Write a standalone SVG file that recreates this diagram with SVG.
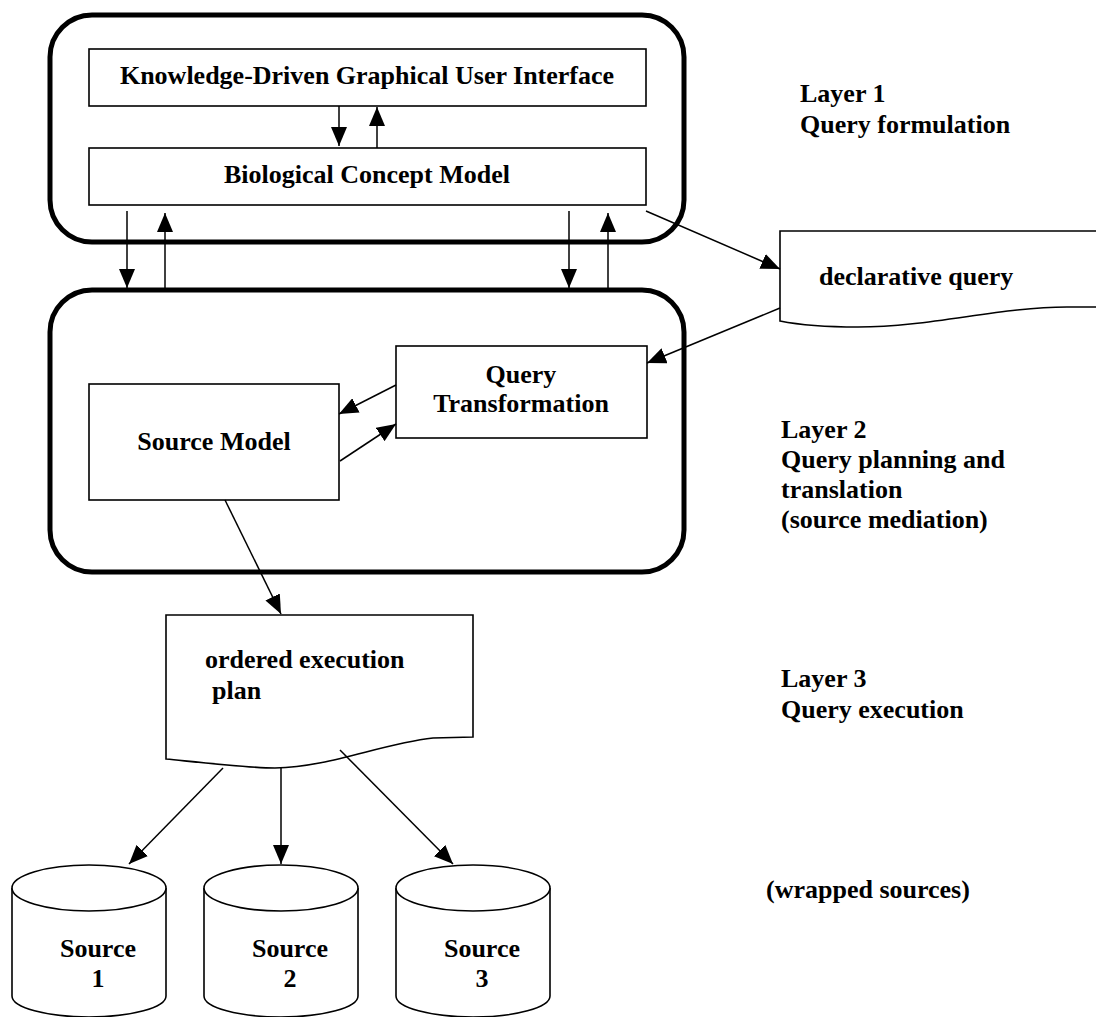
<svg xmlns="http://www.w3.org/2000/svg" width="1096" height="1017" viewBox="0 0 1096 1017">
<defs>
<marker id="ah" markerUnits="userSpaceOnUse" markerWidth="20" markerHeight="16" refX="19" refY="8" orient="auto">
<path d="M0,0 L19,8 L0,16 Z" fill="#000"/>
</marker>
<style>
text{font-family:"Liberation Serif","Times New Roman",serif;font-weight:bold;font-size:26px;fill:#000}
.c{text-anchor:middle}
.layer{fill:none;stroke:#000;stroke-width:5}
.box{fill:#fff;stroke:#000;stroke-width:1.6}
.ln{fill:none;stroke:#000;stroke-width:1.5;marker-end:url(#ah)}
</style>
</defs>
<rect width="1096" height="1017" fill="#fff"/>

<g id="layer1">
<rect class="layer" x="50" y="15" width="634" height="227" rx="42"/>
</g>
<g id="layer2">
<rect class="layer" x="50" y="290" width="634" height="282" rx="42"/>
</g>

<g id="gui">
<rect class="box" x="89" y="49" width="557" height="57"/>
<text class="c" x="367" y="84">Knowledge-Driven Graphical User Interface</text>
</g>
<g id="bcm">
<rect class="box" x="89" y="148" width="557" height="57"/>
<text class="c" x="367" y="183">Biological Concept Model</text>
</g>

<g id="declarative-query">
<path class="box" d="M1100,231 L780,231 L780,321 C800,325 830,327 858,327 C930,327 1000,307 1067,307 L1100,307"/>
<text x="819" y="285">declarative query</text>
</g>

<g id="query-transformation">
<rect class="box" x="396" y="346" width="251" height="92"/>
<text class="c" x="521" y="383">Query</text>
<text class="c" x="521" y="412">Transformation</text>
</g>

<g id="source-model">
<rect class="box" x="89" y="384" width="250" height="116"/>
<text class="c" x="214" y="450">Source Model</text>
</g>

<g id="execution-plan">
<path class="box" d="M166,615 L473,615 L473,737 L433,738 C380,744 330,767 275,768 C250,768 215,764 166,759 Z"/>
<text x="205" y="668">ordered execution</text>
<text x="212" y="699">plan</text>
</g>

<g id="source1">
<path class="box" d="M12,888 L12,996 A77,21 0 0 0 166,996 L166,888"/>
<ellipse class="box" cx="89" cy="888" rx="77" ry="23"/>
<text class="c" x="98" y="957">Source</text>
<text class="c" x="98" y="987">1</text>
</g>
<g id="source2">
<path class="box" d="M204,888 L204,996 A77,21 0 0 0 358,996 L358,888"/>
<ellipse class="box" cx="281" cy="888" rx="77" ry="23"/>
<text class="c" x="290" y="957">Source</text>
<text class="c" x="290" y="987">2</text>
</g>
<g id="source3">
<path class="box" d="M396,888 L396,996 A77,21 0 0 0 550,996 L550,888"/>
<ellipse class="box" cx="473" cy="888" rx="77" ry="23"/>
<text class="c" x="482" y="957">Source</text>
<text class="c" x="482" y="987">3</text>
</g>

<g id="labels">
<text x="800" y="102">Layer 1</text>
<text x="800" y="133">Query formulation</text>
<text x="781" y="438">Layer 2</text>
<text x="781" y="468">Query planning and</text>
<text x="781" y="498">translation</text>
<text x="781" y="528">(source mediation)</text>
<text x="781" y="687">Layer 3</text>
<text x="781" y="718">Query execution</text>
<text x="766" y="898">(wrapped sources)</text>
</g>

<g id="connectors">
<line class="ln" x1="339" y1="106" x2="339" y2="146"/>
<line class="ln" x1="377" y1="148" x2="377" y2="107"/>
<line class="ln" x1="127" y1="211" x2="127" y2="288"/>
<line class="ln" x1="165" y1="288" x2="165" y2="213"/>
<line class="ln" x1="569" y1="211" x2="569" y2="288"/>
<line class="ln" x1="608" y1="288" x2="608" y2="213"/>
<line class="ln" x1="646" y1="211" x2="780" y2="269"/>
<line class="ln" x1="780" y1="308" x2="647" y2="363"/>
<line class="ln" x1="396" y1="385" x2="339" y2="414"/>
<line class="ln" x1="340" y1="461" x2="396" y2="424"/>
<line class="ln" x1="225" y1="500" x2="281" y2="614"/>
<line class="ln" x1="223" y1="768" x2="129" y2="864"/>
<line class="ln" x1="281" y1="768" x2="281" y2="864"/>
<line class="ln" x1="340" y1="750" x2="453" y2="864"/>
</g>
</svg>
